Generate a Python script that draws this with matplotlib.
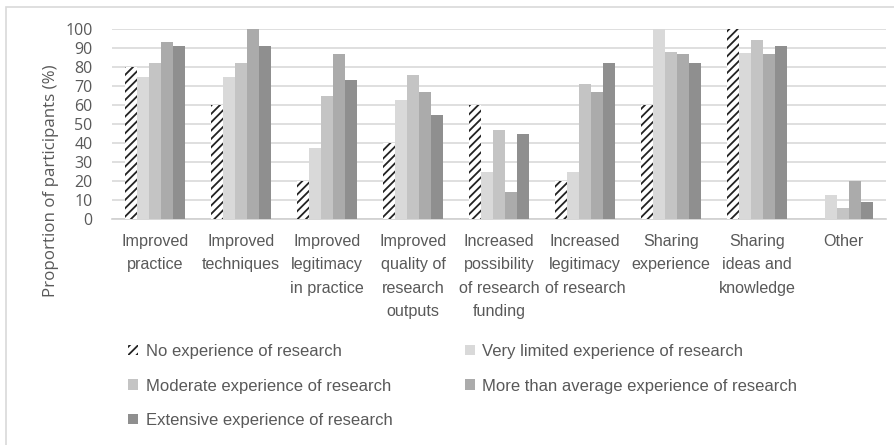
import numpy as np
import matplotlib
matplotlib.use("Agg")
import matplotlib.pyplot as plt
from matplotlib.patches import Rectangle, Patch

categories = [
    "Improved\npractice",
    "Improved\ntechniques",
    "Improved\nlegitimacy\nin practice",
    "Improved\nquality of\nresearch\noutputs",
    "Increased\npossibility\nof research\nfunding",
    "Increased\nlegitimacy\nof research",
    "Sharing\nexperience",
    "Sharing\nideas and\nknowledge",
    "Other",
]

series_names = [
    "No experience of research",
    "Very limited experience of research",
    "Moderate experience of research",
    "More than average experience of research",
    "Extensive experience of research",
]

no_experience = [80, 60, 20, 40, 60, 20, 60, 100, 0]
very_limited = [75, 75, 37.5, 62.5, 25, 25, 100, 87.5, 12.5]
moderate = [82, 82, 65, 76, 47, 71, 88, 94, 6]
above_average = [93, 100, 87, 67, 14, 67, 87, 87, 20]
extensive = [91, 91, 73, 55, 45, 82, 82, 91, 9]

yticks = list(range(0, 101, 10))

series = [no_experience, very_limited, moderate, above_average, extensive]
fills = ["white", "#d9d9d9", "#c4c4c4", "#ababab", "#8f8f8f"]

label_font = "Liberation Sans"
axis_font = "Open Sans"
grey = "#595959"

plt.rcParams["hatch.linewidth"] = 1.3
plt.rcParams["hatch.color"] = "#222222"

fig = plt.figure(figsize=(8.94, 4.45), dpi=100)
ax = fig.add_axes([112 / 894, 1 - 219 / 445, 774 / 894, 190 / 445])

# outer chart border
fig.patches.append(Rectangle((6 / 894, -0.1), 1.2, 1 - 7 / 445 + 0.1,
                             transform=fig.transFigure, fill=False,
                             edgecolor="#d9d9d9", linewidth=1.2))

x = np.arange(len(categories))
width = 0.14
for i, (vals, col) in enumerate(zip(series, fills)):
    pos = x + (i - 2) * width
    if i == 0:
        ax.bar(pos, vals, width, color="white", hatch="////",
               edgecolor="#222222", linewidth=0, zorder=3)
    else:
        ax.bar(pos, vals, width, color=col, linewidth=0, zorder=3)

ax.set_xlim(-0.5, len(categories) - 0.5)
ax.set_ylim(0, 100)
ax.set_yticks(yticks)
ax.set_yticklabels([str(t) for t in yticks], fontsize=11.5, color=grey,
                   family=axis_font)
ax.tick_params(axis="y", length=0, pad=14)
ax.tick_params(axis="x", length=0, pad=11)
ax.set_xticks(x)
ax.set_xticklabels(categories, fontsize=11.6, color=grey, family=label_font,
                   linespacing=1.68, va="top")
ax.grid(axis="y", color="#d9d9d9", linewidth=1.2, zorder=0)
for s in ["top", "right", "left"]:
    ax.spines[s].set_visible(False)
ax.spines["bottom"].set_color("#d0d0d0")
ax.spines["bottom"].set_linewidth(1.2)

fig.text(51 / 894, 1 - 181 / 445, "Proportion of participants (%)", rotation=90,
         ha="center", va="center", fontsize=12.2, color=grey, family=axis_font)

# legend laid out row by row as two single-column legends
handles = [Patch(facecolor="white", hatch="////", edgecolor="#222222", linewidth=0)]
handles += [Patch(facecolor=c, linewidth=0) for c in fills[1:]]
legend_kw = dict(loc="upper left", frameon=False,
                 prop={"family": label_font, "size": 12},
                 handlelength=0.6, handleheight=0.6, handletextpad=0.45,
                 labelspacing=1.17, labelcolor=grey,
                 borderaxespad=0, borderpad=0)
fig.legend([handles[k] for k in (0, 2, 4)],
           [series_names[k] for k in (0, 2, 4)],
           bbox_to_anchor=(128 / 894, 1 - 344 / 445), **legend_kw)
fig.legend([handles[k] for k in (1, 3)],
           [series_names[k] for k in (1, 3)],
           bbox_to_anchor=(465 / 894, 1 - 344 / 445), **legend_kw)

fig.savefig("out.png", dpi=100)
